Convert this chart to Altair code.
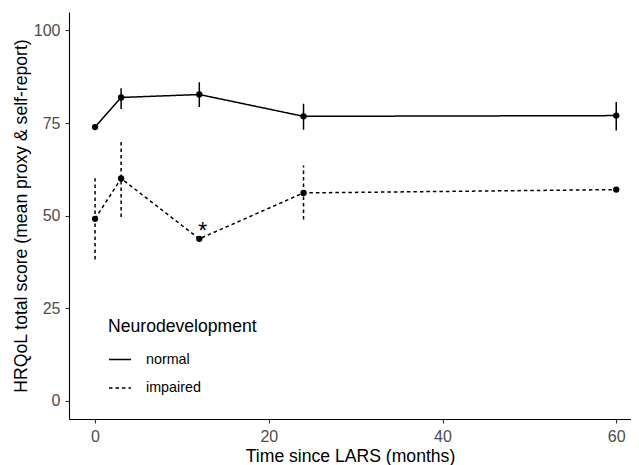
import altair as alt
import pandas as pd

months = [0, 3, 12, 24, 60]
groups = ["normal", "impaired"]
normal_mean = [73.9, 81.9, 82.7, 76.8, 77.0]
normal_lo = [None, 78.8, 79.3, 73.2, 73.0]
normal_hi = [None, 84.4, 86.0, 80.2, 80.7]
impaired_mean = [49.1, 60.0, 43.7, 56.1, 57.0]
impaired_lo = [38.1, 49.6, None, 48.9, None]
impaired_hi = [60.1, 70.7, None, 63.5, None]
star_x = [12.4]
star_y = [43.7]
star_text = ["*"]

rows = []
for i, t in enumerate(months):
    rows.append({"t": t, "score": normal_mean[i], "lo": normal_lo[i], "hi": normal_hi[i], "group": "normal"})
for i, t in enumerate(months):
    rows.append({"t": t, "score": impaired_mean[i], "lo": impaired_lo[i], "hi": impaired_hi[i], "group": "impaired"})
df = pd.DataFrame(rows)
err = df.dropna(subset=["lo", "hi"])
stars = pd.DataFrame({"t": star_x, "score": star_y, "label": star_text})

FONT = "Liberation Sans"
xs = alt.Scale(domain=[-3, 61.7], nice=False, zero=False)
ys = alt.Scale(domain=[-5, 105], nice=False, zero=False)
dash = alt.Scale(domain=groups, range=[[1, 0], [3.5, 3]])
leg = alt.Legend(title="Neurodevelopment")

x_enc = alt.X("t:Q", scale=xs, title="Time since LARS (months)",
              axis=alt.Axis(values=[0, 20, 40, 60]))
y_enc = alt.Y("score:Q", scale=ys, title="HRQoL total score (mean proxy & self-report)",
              axis=alt.Axis(values=[0, 25, 50, 75, 100]))

lines = alt.Chart(df).mark_line(color="black", strokeWidth=1.5).encode(
    x=x_enc, y=y_enc,
    strokeDash=alt.StrokeDash("group:N", scale=dash, sort=groups, legend=leg),
    detail="group:N",
)

points = alt.Chart(df).mark_circle(color="black", size=40, opacity=1).encode(
    x=alt.X("t:Q", scale=xs), y=alt.Y("score:Q", scale=ys)
)

bars = alt.Chart(err).mark_rule(color="black", strokeWidth=1.5).encode(
    x=alt.X("t:Q", scale=xs),
    y=alt.Y("lo:Q", scale=ys),
    y2="hi:Q",
    strokeDash=alt.StrokeDash("group:N", scale=dash, sort=groups, legend=leg),
)

star = alt.Chart(stars).mark_text(fontSize=23, font=FONT, color="black",
                                  align="center", baseline="alphabetic").encode(
    x=alt.X("t:Q", scale=xs), y=alt.Y("score:Q", scale=ys), text="label:N"
)

chart = alt.layer(lines, bars, points, star).properties(
    width=562, height=407,
    autosize=alt.AutoSizeParams(type="none"),
    padding={"left": 61, "top": 4, "right": 0, "bottom": 46},
).configure_view(stroke=None).configure_axis(
    grid=False,
    domainColor="black", domainWidth=1.1,
    tickColor="#333333", tickSize=4, tickWidth=1.1,
    labelFont=FONT, labelFontSize=16, labelColor="#4D4D4D", labelPadding=5,
    titleFont=FONT, titleFontSize=17.6, titleColor="black", titleFontWeight="normal",
).configure_axisY(titlePadding=3).configure_axisX(titlePadding=3).configure_legend(
    orient="none", legendX=39, legendY=306, padding=0,
    titleFont=FONT, titleFontSize=17.6, titleFontWeight="normal", titleColor="black",
    titlePadding=12,
    labelFont=FONT, labelFontSize=14.3, labelColor="black", labelOffset=14,
    symbolType="stroke", symbolSize=484, symbolStrokeWidth=1.5,
    symbolStrokeColor="black", rowPadding=8.4,
)

chart.save("out.html", embed_options={"renderer": "svg", "actions": False})
